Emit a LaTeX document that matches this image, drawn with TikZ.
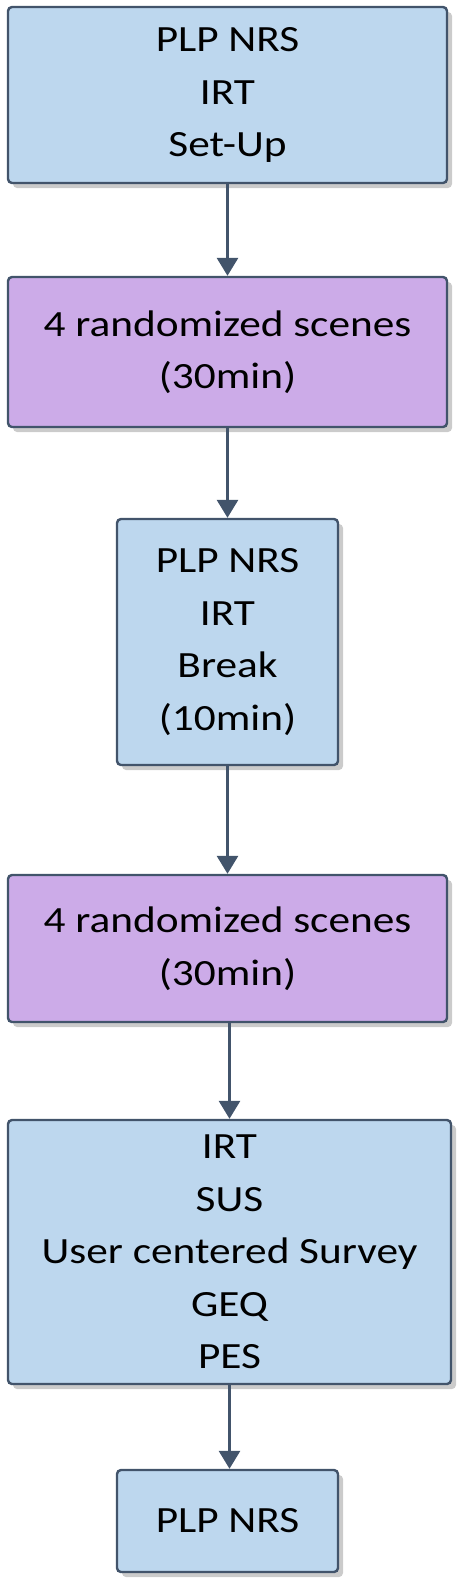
\documentclass[tikz,border=0pt]{standalone}
\usepackage{fontspec}
\setmainfont{Carlito}[FakeStretch=1.17]
\usetikzlibrary{arrows.meta,shadows}
\definecolor{stepblue}{RGB}{189,215,238}
\definecolor{steppurple}{RGB}{204,171,232}
\definecolor{stepline}{RGB}{66,84,107}

\begin{document}
\begin{tikzpicture}[x=1pt,y=-1pt,>={Triangle[width=21pt,length=18pt]},
  box/.style={draw=stepline,line width=2.4pt,rounded corners=4pt,
    align=center,inner sep=0pt,
    font=\fontsize{37}{52.5}\selectfont,
    drop shadow={shadow xshift=5pt,shadow yshift=-5pt,fill=black!45,opacity=0.45}},
  infobox/.style={box,fill=stepblue},
  scenebox/.style={box,fill=steppurple},
  flow/.style={->,draw=stepline,line width=3pt}]
\useasboundingbox (0,0) rectangle (472,1596);
% ---------- questionnaires and scene blocks, top to bottom ----------
\node[infobox,minimum width=439pt,minimum height=176pt] (setup) at (227.5,95)
  {PLP NRS\\IRT\\Set-Up};
\node[scenebox,minimum width=439pt,minimum height=150pt] (scenesA) at (227.5,352)
  {4 randomized scenes\\(30min)};
\node[infobox,minimum width=221pt,minimum height=246pt] (pause) at (227.5,642)
  {PLP NRS\\IRT\\Break\\(10min)};
\node[scenebox,minimum width=439pt,minimum height=147pt] (scenesB) at (227.5,948.5)
  {4 randomized scenes\\(30min)};
\node[infobox,minimum width=443pt,minimum height=264pt] (survey) at (229.5,1252)
  {IRT\\SUS\\User centered Survey\\GEQ\\PES};
\node[infobox,minimum width=221pt,minimum height=102pt] (final) at (227.5,1521)
  {PLP NRS};
% ---------- connectors ----------
\draw[flow] (setup) -- (scenesA);
\draw[flow] (scenesA) -- (pause);
\draw[flow] (pause) -- (scenesB);
\draw[flow] (scenesB.south -| survey) -- (survey);
\draw[flow] (survey.south) -- (survey.south |- final.north);
\end{tikzpicture}
\end{document}
